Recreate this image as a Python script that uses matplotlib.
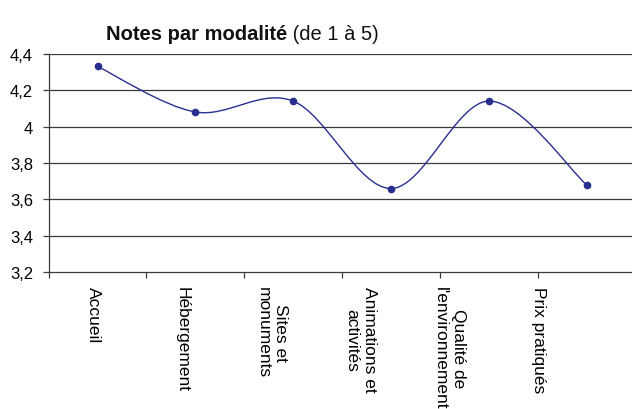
import numpy as np
import matplotlib
matplotlib.use('Agg')
import matplotlib.pyplot as plt
from matplotlib.path import Path
from matplotlib.patches import PathPatch
from matplotlib.ticker import FixedLocator, FuncFormatter
from matplotlib.transforms import ScaledTranslation

plt.rcParams['font.family'] = ['Liberation Sans', 'DejaVu Sans']

# data
categories = ['Accueil', 'Hébergement', 'Sites et\nmonuments', 'Animations et\nactivités',
              "Qualité de\nl'environnement", 'Prix pratiqués']
notes = [4.33, 4.08, 4.14, 3.66, 4.14, 3.68]
y_ticks = [3.2, 3.4, 3.6, 3.8, 4.0, 4.2, 4.4]

navy = '#27308f'
grid_col = '#3a3a3a'

fig = plt.figure(figsize=(6.32, 4.10), dpi=100)
ax = fig.add_axes([0.077, 0.3334, 0.9285, 0.5332])

x = np.arange(len(notes))
pts = np.column_stack([x, notes])

# smoothed line (excel style bezier through the points)
verts = [pts[0]]
codes = [Path.MOVETO]
for i in range(len(pts) - 1):
    p_prev = pts[i - 1] if i > 0 else pts[i]
    p_next2 = pts[i + 2] if i + 2 < len(pts) else pts[i + 1]
    c1 = pts[i] + (pts[i + 1] - p_prev) / 6
    c2 = pts[i + 1] - (p_next2 - pts[i]) / 6
    verts += [c1, c2, pts[i + 1]]
    codes += [Path.CURVE4] * 3
ax.add_patch(PathPatch(Path(verts, codes), facecolor='none', edgecolor=navy, lw=1.0, zorder=3))
ax.plot(x, notes, linestyle='none', marker='o', ms=4.5, color=navy, zorder=4)

ax.set_xlim(-0.5, len(notes) - 0.5)
ax.set_ylim(3.2, 4.4)
ax.set_yticks(y_ticks)
ax.yaxis.set_major_formatter(FuncFormatter(lambda v, p: ('%g' % round(v, 1)).replace('.', ',')))
for yv in y_ticks[1:]:
    ax.axhline(yv, color=grid_col, lw=0.9, zorder=1)

ax.xaxis.set_major_locator(FixedLocator(np.arange(-0.5, len(notes), 1.0)))
ax.xaxis.set_major_formatter(FuncFormatter(lambda v, p: ''))
ax.set_xticks(x, minor=True)
ax.set_xticklabels(categories, minor=True, rotation=-90, ha='center', va='top',
                   multialignment='center', fontsize=12.5)
ax.tick_params(axis='x', which='minor', length=0, pad=10)
ax.tick_params(axis='x', which='major', length=4.3, width=0.9, color=grid_col)
ax.tick_params(axis='y', length=4.3, width=0.9, color=grid_col, labelsize=12, pad=7)

for i, lbl in enumerate(ax.get_xticklabels(minor=True)):
    lbl.set_transform(lbl.get_transform() + ScaledTranslation(-(4 + 8.8 * i) / 100, 0, fig.dpi_scale_trans))

for s in ['top', 'right']:
    ax.spines[s].set_visible(False)
ax.spines['left'].set_color(grid_col)
ax.spines['bottom'].set_color(grid_col)
ax.spines['left'].set_linewidth(0.9)
ax.spines['bottom'].set_linewidth(0.9)

t1 = fig.text(106 / 632, 1 - 34 / 410, 'Notes par modalité', fontsize=14.5, fontweight='bold',
              ha='left', va='center', color='#111111')
fig.canvas.draw()
bb = t1.get_window_extent()
fig.text(bb.x1 / fig.bbox.width, 1 - 34 / 410, ' (de 1 à 5)', fontsize=14.5, ha='left', va='center',
         color='#111111')

fig.savefig('out.png', dpi=100)
